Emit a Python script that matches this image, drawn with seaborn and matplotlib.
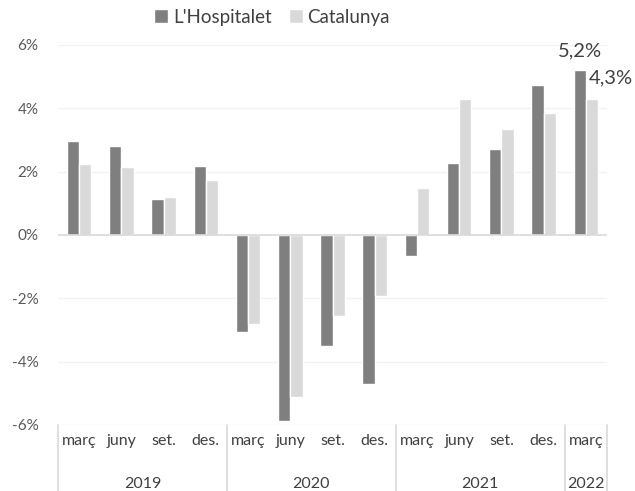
import matplotlib
matplotlib.use("Agg")
import matplotlib.pyplot as plt
import matplotlib.transforms as mtransforms
import pandas as pd
import seaborn as sns

# Dades: variacio interanual per trimestre
anys = ["2019", "2020", "2021", "2022"]
trimestres_per_any = [["març", "juny", "set.", "des."],
                      ["març", "juny", "set.", "des."],
                      ["març", "juny", "set.", "des."],
                      ["març"]]
hospitalet = [2.96, 2.82, 1.15, 2.19, -3.07, -5.87, -3.52, -4.69, -0.67, 2.27, 2.72, 4.73, 5.2]
catalunya = [2.25, 2.16, 1.2, 1.73, -2.81, -5.13, -2.56, -1.92, 1.5, 4.3, 3.35, 3.85, 4.3]
series = ["L'Hospitalet", "Catalunya"]
colors = ["#7f7f7f", "#d9d9d9"]

periodes = []
etiquetes = []
for a, trims in zip(anys, trimestres_per_any):
    for t in trims:
        periodes.append(f"{t} {a}")
        etiquetes.append(t)

df = pd.concat([
    pd.DataFrame({"periode": periodes, "valor": hospitalet, "serie": series[0]}),
    pd.DataFrame({"periode": periodes, "valor": catalunya, "serie": series[1]}),
])

sns.set_style("white")
plt.rcParams["font.family"] = ["Lato", "DejaVu Sans"]

fig = plt.figure(figsize=(6.35, 4.91), dpi=100)
ax = fig.add_axes([58 / 635, 1 - 425 / 491, (607 - 58) / 635, 380 / 491])

sns.barplot(data=df, x="periode", y="valor", hue="serie", order=periodes,
            hue_order=series, palette=colors, width=0.58, saturation=1,
            ax=ax, legend=True)

ax.set_ylim(-6, 6)
ax.set_xlim(-0.5, len(periodes) - 0.5)
ax.set_yticks([-6, -4, -2, 0, 2, 4, 6])
ax.set_yticklabels([f"{v}%" for v in [-6, -4, -2, 0, 2, 4, 6]], color="#595959", fontsize=11)
ax.tick_params(axis="y", length=0, pad=14)
ax.set_xticks([])
ax.set_xlabel("")
ax.set_ylabel("")
for s in ax.spines.values():
    s.set_visible(False)

# Linies de quadricula i eix zero
for v in [-6, -4, -2, 2, 4, 6]:
    ax.axhline(v, color="#f2f2f2", lw=1, zorder=0)
ax.axhline(0, color="#d9d9d9", lw=1.2, zorder=3)

# Etiquetes de dades de l'ultim trimestre
ax.text(len(periodes) - 1 - 0.145, hospitalet[-1] + 0.35, "5,2%", ha="center", va="bottom",
        fontsize=14.5, color="#404040")
ax.text(len(periodes) - 1 + 0.6, catalunya[-1] + 0.4, "4,3%", ha="center", va="bottom",
        fontsize=14.5, color="#404040", clip_on=False)

# Eix x de dos nivells
trans = mtransforms.blended_transform_factory(ax.transData, ax.transAxes)
for i, t in enumerate(etiquetes):
    ax.text(i, -0.042, t, transform=trans, ha="center", va="center", fontsize=11.5, color="#404040")
inici = -0.5
for a, trims in zip(anys, trimestres_per_any):
    fi = inici + len(trims)
    ax.text((inici + fi) / 2, -0.155, a, transform=trans, ha="center", va="center",
            fontsize=11.5, color="#404040")
    ax.plot([inici, inici], [0, -0.18], transform=trans, color="#d9d9d9", lw=1.2, clip_on=False)
    inici = fi
ax.plot([inici, inici], [0, -0.18], transform=trans, color="#d9d9d9", lw=1.2, clip_on=False)

# Llegenda
ax.legend(loc="center", bbox_to_anchor=(272 / 635, 1 - 17 / 491), bbox_transform=fig.transFigure,
          ncol=2, frameon=False, fontsize=13.5, handlelength=0.75, handleheight=0.75,
          handletextpad=0.25, columnspacing=0.9, labelcolor="#404040")

fig.savefig("out.png", dpi=100)
